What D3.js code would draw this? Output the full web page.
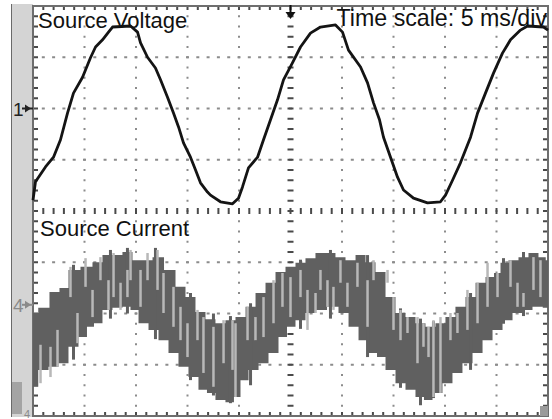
<!DOCTYPE html>
<html><head><meta charset="utf-8">
<script src="https://cdn.jsdelivr.net/npm/d3@7"></script>
<style>html,body{margin:0;padding:0;background:#fff;}svg{display:block;}</style>
</head><body>
<script>
// ---- data (time in ms, amplitude in divisions) ----
const voltT = [-25.0,-24.76,-23.79,-23.01,-22.33,-21.65,-21.07,-20.19,-19.42,-18.93,-18.25,-17.67,-17.28,-15.53,-14.85,-14.56,-13.88,-13.11,-12.62,-11.94,-11.36,-10.87,-10.39,-9.71,-9.22,-8.74,-8.06,-7.77,-6.80,-5.63,-5.05,-4.66,-4.08,-3.20,-2.62,-1.94,-1.26,-0.68,0.19,0.97,1.94,2.91,4.37,5.05,5.63,6.80,7.48,8.06,8.64,9.03,9.71,10.39,10.97,11.94,13.30,14.56,15.05,15.73,16.50,17.48,18.16,18.93,19.71,20.58,21.36,22.33,23.01,24.56,25.0];
const voltV = [0.21,0.57,0.86,1.05,1.39,1.91,2.30,2.61,2.99,3.20,3.34,3.49,3.59,3.61,3.49,3.28,3.00,2.79,2.56,2.22,1.91,1.64,1.33,1.05,0.80,0.55,0.37,0.31,0.18,0.14,0.25,0.47,0.84,1.05,1.39,1.78,2.17,2.56,2.89,3.20,3.47,3.59,3.63,3.49,3.14,2.81,2.50,2.11,1.78,1.44,1.05,0.66,0.41,0.25,0.16,0.18,0.31,0.60,0.94,1.44,1.91,2.30,2.69,3.08,3.34,3.53,3.61,3.59,3.53];

const curUpT = [-25.0,-23.98,-22.82,-22.04,-21.07,-19.71,-18.74,-17.77,-16.80,-15.83,-14.85,-13.88,-12.91,-11.65,-10.68,-9.71,-8.74,-7.77,-6.80,-5.83,-4.85,-3.88,-2.91,-1.94,-0.97,0,0.97,1.94,2.91,3.88,4.85,5.83,6.80,7.77,8.74,9.71,10.68,11.65,12.62,13.59,14.56,15.53,16.50,17.48,18.45,19.42,20.10,20.68,21.65,22.62,23.59,24.56,25.0];
const curUpV = [-1.99,-1.89,-1.58,-1.50,-1.15,-1.09,-1.00,-0.86,-0.86,-0.80,-0.96,-0.96,-0.90,-1.15,-1.48,-1.68,-1.97,-2.11,-2.19,-2.13,-2.07,-1.87,-1.60,-1.40,-1.19,-1.09,-1.01,-0.92,-0.82,-0.82,-0.90,-0.96,-0.86,-1.00,-1.19,-1.68,-1.99,-2.07,-2.19,-2.26,-2.19,-2.07,-1.87,-1.68,-1.40,-1.29,-1.21,-1.01,-0.96,-0.90,-0.82,-0.90,-0.96];
const curLoT = [-25.0,-23.98,-23.01,-22.04,-21.07,-20.10,-19.42,-18.74,-17.77,-16.80,-15.83,-15.24,-14.27,-13.30,-12.33,-11.36,-10.39,-9.42,-8.45,-7.77,-6.80,-5.83,-5.15,-4.56,-3.59,-2.62,-1.65,-0.68,0,0.97,1.94,2.91,4.17,5.15,6.12,7.09,8.06,8.74,9.71,10.68,11.65,12.62,13.30,14.27,15.24,16.21,17.18,18.16,19.13,20.10,21.07,22.04,23.01,23.98,25.0];
const curLoV = [-3.43,-3.10,-3.04,-2.97,-2.65,-2.46,-2.26,-2.19,-1.93,-1.89,-1.87,-1.93,-2.19,-2.32,-2.52,-2.77,-3.04,-3.24,-3.49,-3.55,-3.69,-3.73,-3.63,-3.30,-3.10,-2.97,-2.77,-2.46,-2.26,-2.13,-1.99,-1.93,-1.87,-1.99,-2.26,-2.52,-2.77,-2.85,-3.10,-3.36,-3.49,-3.63,-3.69,-3.55,-3.36,-3.16,-2.97,-2.77,-2.52,-2.32,-2.13,-1.99,-1.93,-1.87,-1.89];

// light switching spikes
const spikeT = [-24.27,-23.30,-22.62,-21.36,-20.68,-19.90,-19.22,-18.45,-17.67,-17.18,-16.50,-15.83,-15.53,-14.56,-13.88,-12.91,-12.33,-11.36,-10.68,-10.00,-9.03,-8.45,-7.48,-6.50,-5.63,-5.34,-4.17,-3.40,-2.62,-1.65,-0.78,0,0.97,1.65,2.43,2.91,3.59,4.17,4.85,5.53,6.50,7.48,8.06,9.42,10.00,10.68,11.36,12.33,12.91,13.40,13.88,14.56,15.53,16.21,17.18,18.16,19.13,20.10,21.36,22.04,22.62,23.59,24.27];
const spikeTop = [-2.61,-2.65,-2.32,-1.09,-1.99,-0.92,-1.54,-0.90,-1.35,-0.82,-1.40,-1.15,-0.76,-1.15,-0.82,-0.76,-1.21,-1.48,-1.87,-2.19,-1.93,-2.07,-2.26,-2.13,-2.13,-2.19,-1.87,-2.07,-1.68,-1.35,-1.21,-1.29,-1.15,-1.54,-1.60,-1.15,-1.35,-1.48,-0.96,-1.40,-1.01,-1.35,-0.96,-1.15,-1.68,-1.93,-2.07,-2.07,-2.19,-2.26,-2.13,-2.07,-1.99,-1.99,-1.54,-1.40,-1.01,-1.21,-0.96,-1.40,-1.60,-0.90,-0.96];
const spikeBot = [-3.36,-3.24,-3.04,-1.68,-2.58,-1.48,-2.07,-1.35,-1.93,-1.68,-1.93,-1.68,-1.35,-1.87,-1.35,-1.54,-1.99,-2.26,-2.52,-2.85,-2.52,-3.16,-3.43,-2.97,-3.10,-3.63,-2.52,-2.52,-2.46,-2.19,-1.87,-2.07,-1.68,-2.32,-1.99,-1.54,-1.87,-1.93,-1.40,-1.87,-1.48,-2.26,-1.35,-1.40,-2.32,-2.52,-2.38,-2.97,-2.65,-2.85,-3.63,-3.55,-2.52,-2.38,-2.32,-2.19,-1.87,-1.68,-1.48,-1.87,-1.87,-1.54,-1.68];
// dark spikes poking out of the band
const darkT = [-21.07,-17.48,-15.83,-13.11,-9.71,-7.48,-5.83,-3.88,0.97,3.88,7.48,10.68,12.62,13.88,17.48,20.68,22.62];
const darkTop = [-1.05,-0.76,-0.72,-0.72,-1.60,-2.00,-2.05,-1.80,-0.95,-0.76,-0.86,-1.90,-2.10,-2.15,-1.60,-0.92,-0.80];
const darkBot = [-2.90,-2.10,-2.00,-2.50,-3.30,-3.60,-3.75,-3.40,-2.30,-2.10,-2.85,-3.45,-3.79,-3.65,-3.10,-2.20,-2.05];

const gridTimes = [-25,-20,-15,-10,-5,0,5,10,15,20,25];
const gridDivs = [-4,-3,-2,-1,0,1,2,3,4];
const channelMarks = [{label:"1", v:2, color:"#222"},{label:"4", v:-1.83, color:"#8a8a8a"}];
const titleVoltage = "Source Voltage";
const titleCurrent = "Source Current";
const timeScaleLabel = "Time scale: 5 ms/div";

// ---- drawing ----
const W = 552, H = 419;
const svg = d3.select("body").append("svg").attr("width", W).attr("height", H);
const x = d3.scaleLinear().domain([-25, 25]).range([33, 548]);
const y = d3.scaleLinear().domain([-4, 4]).range([416, 6]);

// left strip
svg.append("rect").attr("x", 11).attr("y", 4).attr("width", 22).attr("height", 413).attr("fill", "#d4d4d4");
svg.append("line").attr("x1", 11.5).attr("x2", 11.5).attr("y1", 4).attr("y2", 417).attr("stroke", "#6a6a6a").attr("stroke-width", 1);
svg.append("rect").attr("x", 12).attr("y", 382).attr("width", 10).attr("height", 32).attr("fill", "#a4a4a4");

// plot background
svg.append("rect").attr("x", x(-25)).attr("y", y(4)).attr("width", x(25) - x(-25)).attr("height", y(-4) - y(4)).attr("fill", "#fff");

const g = svg.append("g");
const minorT = d3.range(-25, 25.001, 1);
const minorV = d3.range(-4, 4.001, 0.2);

// dotted grid lines
gridTimes.filter(t => t !== 0 && Math.abs(t) !== 25).forEach(t => {
  g.selectAll(null).data(minorV.slice(1, -1)).enter().append("rect")
    .attr("x", x(t) - 1).attr("y", d => y(d) - 1).attr("width", 2).attr("height", 2).attr("fill", "#8c8c8c");
});
gridDivs.filter(v => v !== 0 && Math.abs(v) !== 4).forEach(v => {
  g.selectAll(null).data(minorT.slice(1, -1)).enter().append("rect")
    .attr("x", d => x(d) - 1.5).attr("y", y(v) - 1).attr("width", 3).attr("height", 2).attr("fill", "#8c8c8c");
});
// center cross (tick dashes)
g.selectAll(null).data(minorV.slice(1, -1)).enter().append("rect")
  .attr("x", x(0) - 3).attr("y", d => y(d) - 1).attr("width", 6).attr("height", 2).attr("fill", "#4a4a4a");
g.selectAll(null).data(minorT.slice(1, -1)).enter().append("rect")
  .attr("x", d => x(d) - 1).attr("y", y(0) - 3).attr("width", 2).attr("height", 6).attr("fill", "#4a4a4a");
// border ticks
g.selectAll(null).data(minorT.slice(1, -1)).enter().append("rect")
  .attr("x", d => x(d) - 1).attr("y", y(4)).attr("width", 2).attr("height", 4).attr("fill", "#4a4a4a");
g.selectAll(null).data(minorT.slice(1, -1)).enter().append("rect")
  .attr("x", d => x(d) - 1).attr("y", y(-4) - 4).attr("width", 2).attr("height", 4).attr("fill", "#4a4a4a");
g.selectAll(null).data(minorV.slice(1, -1)).enter().append("rect")
  .attr("x", x(-25)).attr("y", d => y(d) - 1).attr("width", 5).attr("height", 2).attr("fill", "#4a4a4a");
g.selectAll(null).data(minorV.slice(1, -1)).enter().append("rect")
  .attr("x", x(25) - 5).attr("y", d => y(d) - 1).attr("width", 5).attr("height", 2).attr("fill", "#4a4a4a");

// plot frame
svg.append("rect").attr("x", x(-25)).attr("y", y(4)).attr("width", x(25) - x(-25)).attr("height", y(-4) - y(4))
  .attr("fill", "none").attr("stroke", "#6e6e6e").attr("stroke-width", 2);

// current band (stepped edges, like the sampled scope trace)
const upPts = curUpT.map((t, i) => [t, curUpV[i]]);
const loPts = curLoT.map((t, i) => [t, curLoV[i]]);
const stepGen = d3.line().x(d => x(d[0])).y(d => y(d[1])).curve(d3.curveStep);
const upPath = stepGen(upPts);
const loPath = stepGen(loPts.slice().reverse());
svg.append("path").attr("d", upPath + "L" + loPath.slice(1) + "Z").attr("fill", "#606060");
svg.append("g").selectAll("line").data(darkT.map((t, i) => ({t, a: darkTop[i], b: darkBot[i]}))).enter().append("line")
  .attr("x1", d => x(d.t)).attr("x2", d => x(d.t)).attr("y1", d => y(d.a)).attr("y2", d => y(d.b))
  .attr("stroke", "#606060").attr("stroke-width", 3);
svg.append("g").selectAll("line").data(spikeT.map((t, i) => ({t, a: spikeTop[i], b: spikeBot[i]}))).enter().append("line")
  .attr("x1", d => x(d.t)).attr("x2", d => x(d.t)).attr("y1", d => y(d.a)).attr("y2", d => y(d.b))
  .attr("stroke", "#b8b8b8").attr("stroke-width", 2.5);

// voltage trace
const lineGen = d3.line().x(d => x(d[0])).y(d => y(d[1]));
svg.append("path").attr("d", lineGen(voltT.map((t, i) => [t, voltV[i]])))
  .attr("fill", "none").attr("stroke", "#141414").attr("stroke-width", 2.8).attr("stroke-linejoin", "round");

// texts
const font = "'Liberation Sans', Arial, sans-serif";
svg.append("text").attr("x", 38).attr("y", 28).text(titleVoltage).attr("font-family", font).attr("font-size", 22).attr("fill", "#111");
svg.append("text").attr("x", 547).attr("y", 26).attr("text-anchor", "end").text(timeScaleLabel).attr("font-family", font).attr("font-size", 23.2).attr("fill", "#111");
svg.append("text").attr("x", 40).attr("y", 236).text(titleCurrent).attr("font-family", font).attr("font-size", 22).attr("fill", "#111");

// channel markers
channelMarks.forEach(m => {
  const yy = y(m.v);
  svg.append("text").attr("x", 13).attr("y", yy + 7).text(m.label).attr("font-family", font).attr("font-size", 19).attr("fill", m.color);
  svg.append("line").attr("x1", 22).attr("x2", 33).attr("y1", yy).attr("y2", yy).attr("stroke", m.color).attr("stroke-width", 2);
  svg.append("path").attr("d", `M${25},${yy - 4}L${31},${yy}L${25},${yy + 4}Z`).attr("fill", m.color);
});
svg.append("text").attr("x", 24).attr("y", 418).text("4").attr("font-family", font).attr("font-size", 11).attr("fill", "#8a8a8a");

// trigger marker
const tx = x(0);
svg.append("line").attr("x1", tx).attr("x2", tx).attr("y1", 5).attr("y2", 13).attr("stroke", "#111").attr("stroke-width", 2);
svg.append("path").attr("d", `M${tx - 5},${12}L${tx + 5},${12}L${tx},${19}Z`).attr("fill", "#111");

// small marker bottom right
svg.append("rect").attr("x", 540).attr("y", 406).attr("width", 8).attr("height", 10).attr("fill", "#9a9a9a");
</script>
</body></html>
